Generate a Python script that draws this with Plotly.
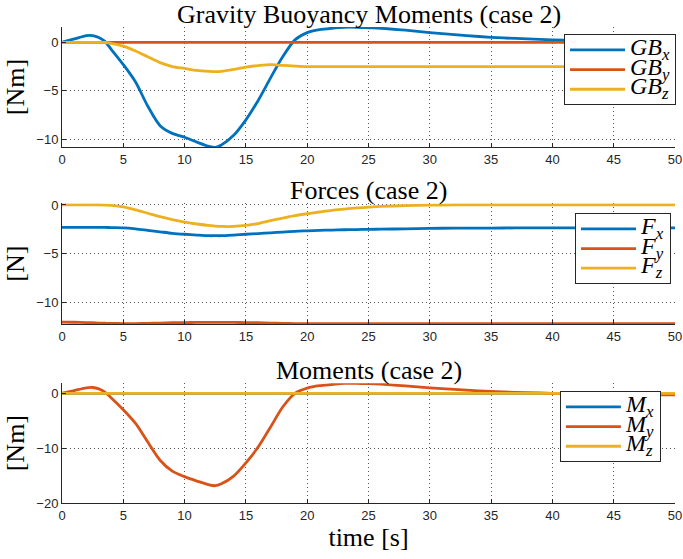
import plotly.graph_objects as go

# Sample times [s]
t = [0, 1, 2, 2.5, 3, 3.5, 4, 5, 6, 7, 8, 9, 10, 11, 12, 12.5, 13, 14, 15, 16,
     17, 18, 19, 20, 21, 22, 23, 24, 25, 26, 28, 30, 32, 34, 36, 38, 40, 42,
     45, 48, 50]

# Gravity / buoyancy moments [Nm]
gb_x = [0, 0.35, 0.7, 0.7, 0.5, 0.1, -0.7, -2.3, -4.1, -6.6, -8.6, -9.4, -9.8,
        -10.3, -10.75, -10.85, -10.6, -9.6, -8.0, -6.0, -3.7, -1.5, 0.25, 1.0,
        1.3, 1.45, 1.55, 1.55, 1.5, 1.45, 1.25, 1.0, 0.8, 0.6, 0.45, 0.35, 0.25,
        0.2, 0.12, 0.07, 0.05]
gb_y = [0.0] * len(t)
gb_z = [0, 0, 0, 0, 0, -0.02, -0.1, -0.4, -0.9, -1.5, -2.1, -2.5, -2.7, -2.9,
        -3.0, -3.03, -3.0, -2.8, -2.55, -2.4, -2.3, -2.38, -2.45, -2.5, -2.5,
        -2.5, -2.5, -2.5, -2.5, -2.5, -2.5, -2.5, -2.5, -2.5, -2.5, -2.5, -2.5,
        -2.5, -2.5, -2.5, -2.5]

# Forces [N]
f_x = [-2.3, -2.3, -2.3, -2.3, -2.3, -2.3, -2.32, -2.35, -2.45, -2.6, -2.75,
       -2.9, -3.0, -3.08, -3.15, -3.15, -3.15, -3.08, -3.0, -2.93, -2.85,
       -2.78, -2.7, -2.65, -2.6, -2.57, -2.54, -2.52, -2.5, -2.48, -2.45,
       -2.4, -2.38, -2.37, -2.36, -2.35, -2.35, -2.35, -2.35, -2.35, -2.35]
f_y = [-12.0, -12.02, -12.05, -12.07, -12.1, -12.12, -12.14, -12.15, -12.15,
       -12.13, -12.1, -12.07, -12.05, -12.04, -12.04, -12.04, -12.04, -12.04,
       -12.05, -12.07, -12.1, -12.13, -12.15, -12.15, -12.15, -12.15, -12.15,
       -12.15, -12.15, -12.15, -12.15, -12.15, -12.15, -12.15, -12.15, -12.15,
       -12.15, -12.15, -12.15, -12.15, -12.15]
f_z = [0, 0, 0, 0, 0, -0.02, -0.05, -0.2, -0.5, -0.85, -1.2, -1.5, -1.75,
       -1.95, -2.1, -2.17, -2.2, -2.2, -2.1, -1.9, -1.6, -1.35, -1.1, -0.9,
       -0.72, -0.55, -0.42, -0.3, -0.22, -0.15, -0.07, -0.02, 0, 0, 0, 0, 0, 0,
       0, 0, 0]

# Total moments [Nm]
m_x = [0.0] * len(t)
m_y = [0, 0.5, 1.0, 1.05, 0.8, 0.2, -0.8, -3.0, -5.5, -8.9, -12.2, -14.2,
       -15.2, -16.0, -16.7, -16.85, -16.5, -15.1, -12.7, -9.8, -6.2, -2.5, 0.0,
       0.95, 1.4, 1.6, 1.8, 1.8, 1.75, 1.65, 1.35, 1.0, 0.7, 0.45, 0.25, 0.12,
       0.0, -0.1, -0.2, -0.28, -0.3]
m_z = [0.0] * len(t)

x_ticks = [0, 5, 10, 15, 20, 25, 30, 35, 40, 45, 50]
gb_ticks = [0, -5, -10]
f_ticks = [0, -5, -10]
m_ticks = [0, -10, -20]

BLUE, ORANGE, YELLOW = "#0072BD", "#D95319", "#EDB120"
SERIF = "Liberation Serif, DejaVu Serif, serif"
SANS = "Liberation Sans, Arial, sans-serif"
INK = "#262626"
GRID = "#555555"

fig = go.Figure()


def math_label(base, sub):
    return ('<span style="font-size:24px"><i>%s<sub>%s</sub></i></span>'
            % (base, sub))


def add(y, base, sub, color, ax, leg):
    fig.add_trace(go.Scatter(
        x=t, y=y, name=math_label(base, sub), mode="lines",
        line=dict(color=color, width=2.8, shape="spline", smoothing=0.8),
        xaxis=ax[0], yaxis=ax[1], legend=leg))


add(gb_x, "GB", "x", BLUE, ("x", "y"), "legend")
add(gb_y, "GB", "y", ORANGE, ("x", "y"), "legend")
add(gb_z, "GB", "z", YELLOW, ("x", "y"), "legend")
add(f_x, "F", "x", BLUE, ("x2", "y2"), "legend2")
add(f_y, "F", "y", ORANGE, ("x2", "y2"), "legend2")
add(f_z, "F", "z", YELLOW, ("x2", "y2"), "legend2")
add(m_x, "M", "x", BLUE, ("x3", "y3"), "legend3")
add(m_y, "M", "y", ORANGE, ("x3", "y3"), "legend3")
add(m_z, "M", "z", YELLOW, ("x3", "y3"), "legend3")

xbase = dict(range=[0, 50], tickvals=x_ticks, showgrid=True, gridcolor=GRID,
             griddash="1px,3px", gridwidth=1, zeroline=False, showline=True,
             linecolor=INK, linewidth=1, ticks="inside", ticklen=4,
             tickcolor=INK, tickfont=dict(family=SANS, size=13, color=INK))
ybase = dict(showgrid=True, gridcolor=GRID, griddash="1px,3px", gridwidth=1,
             zeroline=False, showline=True, linecolor=INK, linewidth=1,
             ticks="inside", ticklen=4, tickcolor=INK,
             tickfont=dict(family=SANS, size=13, color=INK))

legbase = dict(bgcolor="white", bordercolor=INK, borderwidth=1,
               font=dict(family=SERIF, size=12.8, color="black"),
               xanchor="right", yanchor="top", tracegroupgap=0,
               itemwidth=55, itemclick=False)

axis_title_font = dict(family=SERIF, size=26, color="black")

fig.update_layout(
    width=683, height=559, plot_bgcolor="white", paper_bgcolor="white",
    margin=dict(l=62, r=8, t=27, b=56, autoexpand=False),
    xaxis=dict(xbase, domain=[0, 1], anchor="y"),
    xaxis2=dict(xbase, domain=[0, 1], anchor="y2"),
    xaxis3=dict(xbase, domain=[0, 1], anchor="y3",
                title=dict(text="time [s]", standoff=2, font=axis_title_font)),
    yaxis=dict(ybase, domain=[0.748, 1.0], range=[-10.8, 1.58],
               tickvals=gb_ticks, anchor="x",
               title=dict(text="[Nm]", standoff=4, font=axis_title_font)),
    yaxis2=dict(ybase, domain=[0.376, 0.6296], range=[-12.2, 0.17],
                tickvals=f_ticks, anchor="x2",
                title=dict(text="[N]", standoff=4, font=axis_title_font)),
    yaxis3=dict(ybase, domain=[0, 0.2515], range=[-20, 1.82],
                tickvals=m_ticks, anchor="x3",
                title=dict(text="[Nm]", standoff=4, font=axis_title_font)),
    legend=dict(legbase, x=1.0016, y=0.985),
    legend2=dict(legbase, x=0.9935, y=0.609),
    legend3=dict(legbase, x=0.977, y=0.235),
    showlegend=True,
)

titles = [("Gravity Buoyancy Moments (case 2)", 1.0),
          ("Forces (case 2)", 0.6296),
          ("Moments (case 2)", 0.2515)]
for text, ytop in titles:
    fig.add_annotation(text=text, x=0.5, y=ytop, xref="paper", yref="paper",
                       xanchor="center", yanchor="bottom", yshift=-4,
                       showarrow=False,
                       font=dict(family=SERIF, size=26, color="black"))

fig.write_html("out.html")
